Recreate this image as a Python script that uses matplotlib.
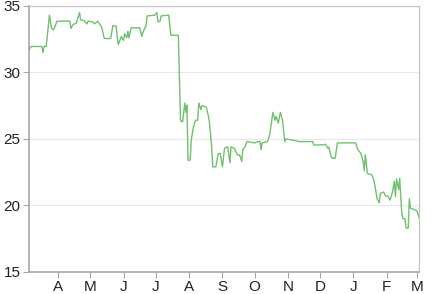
import matplotlib
matplotlib.use('Agg')
import matplotlib.pyplot as plt
import matplotlib.dates as mdates
import pandas as pd

plt.rcParams['font.family'] = ['Liberation Sans', 'DejaVu Sans']

LINE = '#70c06e'
AXIS = '#a8a8a8'
GRID = '#e8e8e8'

# price series (step-like daily series, key points only)
dates = [
    '2014-03-05', '2014-03-07', '2014-03-17', '2014-03-18', '2014-03-19', '2014-03-21',
    '2014-03-24', '2014-03-26', '2014-03-28', '2014-03-31', '2014-04-12', '2014-04-13',
    '2014-04-15', '2014-04-18', '2014-04-21', '2014-04-22', '2014-04-25', '2014-04-28',
    '2014-04-29', '2014-05-03', '2014-05-05', '2014-05-08', '2014-05-09', '2014-05-11',
    '2014-05-12', '2014-05-14', '2014-05-20', '2014-05-22', '2014-05-25', '2014-05-27',
    '2014-05-28', '2014-05-30', '2014-06-01', '2014-06-02', '2014-06-04', '2014-06-05',
    '2014-06-06', '2014-06-08', '2014-06-16', '2014-06-18', '2014-06-19', '2014-06-22',
    '2014-06-23', '2014-06-30', '2014-07-02', '2014-07-03', '2014-07-05', '2014-07-06',
    '2014-07-13', '2014-07-15', '2014-07-22', '2014-07-24', '2014-07-25', '2014-07-26',
    '2014-07-28', '2014-07-29', '2014-07-30', '2014-07-31', '2014-08-02', '2014-08-03',
    '2014-08-05', '2014-08-07', '2014-08-09', '2014-08-10', '2014-08-12', '2014-08-13',
    '2014-08-17', '2014-08-19', '2014-08-20', '2014-08-22', '2014-08-23', '2014-08-26',
    '2014-08-28', '2014-08-30', '2014-09-01', '2014-09-03', '2014-09-06', '2014-09-08',
    '2014-09-09', '2014-09-12', '2014-09-15', '2014-09-17', '2014-09-19', '2014-09-20',
    '2014-09-22', '2014-09-24', '2014-10-01', '2014-10-04', '2014-10-06', '2014-10-07',
    '2014-10-08', '2014-10-13', '2014-10-15', '2014-10-18', '2014-10-20', '2014-10-21',
    '2014-10-23', '2014-10-25', '2014-10-27', '2014-10-29', '2014-10-30', '2014-11-09',
    '2014-11-11', '2014-11-24', '2014-11-25', '2014-12-04', '2014-12-06', '2014-12-08',
    '2014-12-09', '2014-12-11', '2014-12-12', '2014-12-15', '2014-12-17', '2015-01-03',
    '2015-01-05', '2015-01-08', '2015-01-10', '2015-01-11', '2015-01-12', '2015-01-14',
    '2015-01-18', '2015-01-20', '2015-01-22', '2015-01-23', '2015-01-25', '2015-01-26',
    '2015-01-29', '2015-01-31', '2015-02-02', '2015-02-04', '2015-02-06', '2015-02-08',
    '2015-02-09', '2015-02-10', '2015-02-12', '2015-02-13', '2015-02-14', '2015-02-15',
    '2015-02-16', '2015-02-18', '2015-02-19', '2015-02-21', '2015-02-22', '2015-02-23',
    '2015-02-26', '2015-03-01', '2015-03-03',
]
values = [
    31.7, 31.95, 31.95, 31.5, 31.95, 31.95,
    34.3, 33.3, 33.2, 33.85, 33.85, 33.3,
    33.6, 33.7, 34.5, 33.95, 33.9, 33.65,
    33.85, 33.8, 33.65, 33.85, 33.7, 33.5,
    33.3, 32.55, 32.55, 33.5, 33.5, 32.1,
    32.3, 32.7, 32.4, 32.9, 32.6, 33.1,
    32.6, 33.35, 33.35, 32.7, 33.0, 33.55,
    34.25, 34.3, 34.5, 33.8, 33.85, 34.25,
    34.3, 32.8, 32.8, 26.4, 26.3, 26.3,
    27.7, 27.0, 27.55, 23.4, 23.4, 24.9,
    25.9, 26.4, 26.4, 27.7, 27.2, 27.5,
    27.4, 26.7, 26.2, 24.4, 22.9, 22.9,
    23.9, 23.9, 22.9, 24.3, 24.4, 23.2,
    24.4, 24.3, 23.8, 23.8, 23.3, 24.2,
    24.4, 24.8, 24.7, 24.8, 24.8, 24.2,
    24.7, 24.8, 25.3, 27.0, 26.4, 26.7,
    26.2, 27.0, 26.4, 24.8, 25.0, 24.85,
    24.8, 24.8, 24.55, 24.55, 24.6, 24.3,
    24.4, 23.7, 23.55, 23.55, 24.7, 24.7,
    24.2, 23.9, 23.3, 22.6, 23.8, 22.4,
    22.3, 21.9, 21.0, 20.5, 20.2, 20.9,
    21.0, 20.7, 20.7, 20.4, 20.9, 21.8,
    20.65, 22.0, 21.2, 22.05, 20.65, 19.4,
    19.0, 19.0, 18.3, 18.3, 20.5, 19.8,
    19.7, 19.6, 19.1,
]
y_ticks = [15, 20, 25, 30, 35]

x = pd.to_datetime(dates)

fig = plt.figure(figsize=(4.33, 2.94), dpi=100)
fig.patch.set_facecolor('white')
ax = fig.add_axes([0.067, 0.075, 0.9007, 0.905])

ax.plot(x, values, color=LINE, lw=1.0)

ax.set_xlim(pd.Timestamp('2014-03-05'), pd.Timestamp('2015-03-03'))
ax.set_ylim(15, 35)
ax.set_yticks(y_ticks)

ax.xaxis.set_major_locator(mdates.MonthLocator())
ax.xaxis.set_major_formatter(mdates.DateFormatter('%b'))
fig.canvas.draw()
ax.set_xticklabels([t.get_text()[0] for t in ax.get_xticklabels()])

for y in y_ticks[1:-1]:
    ax.axhline(y, color=GRID, lw=0.8, zorder=0)

for side in ['left', 'bottom']:
    ax.spines[side].set_color(AXIS)
    ax.spines[side].set_linewidth(1.2)
for side in ['top', 'right']:
    ax.spines[side].set_color('#c4c4c4')
    ax.spines[side].set_linewidth(0.9)

ax.tick_params(axis='both', colors=AXIS, labelcolor='#222222', labelsize=11,
               length=4, width=0.8)
ax.tick_params(axis='y', pad=2)
ax.tick_params(axis='x', pad=2)

fig.savefig('out.png', dpi=100, facecolor='white')
